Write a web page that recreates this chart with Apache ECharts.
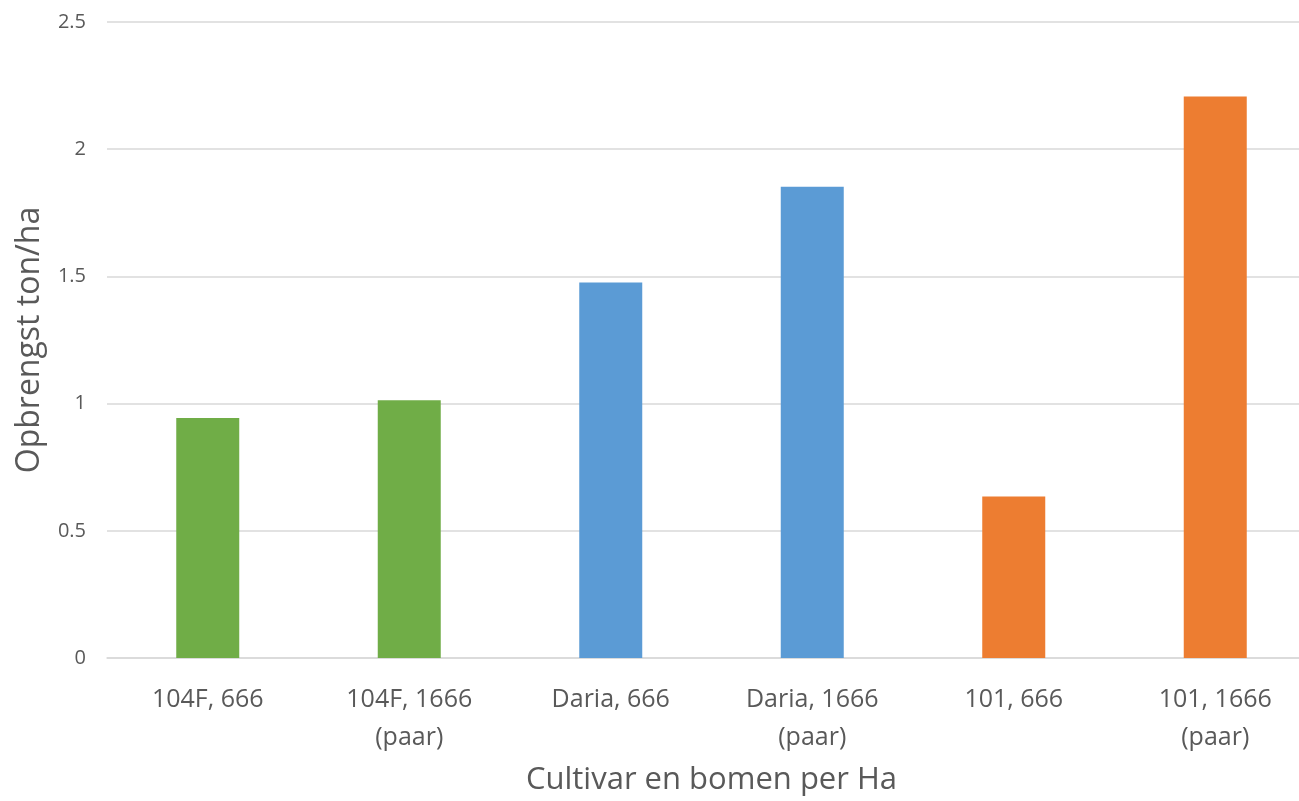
<!DOCTYPE html>
<html>
<head>
<meta charset="utf-8">
<script src="https://cdn.jsdelivr.net/npm/echarts@6/dist/echarts.min.js"></script>
<style>
html,body{margin:0;padding:0;background:#fff;overflow:hidden;width:1299px;height:801px;}
#c{width:1316px;height:801px;}
</style>
</head>
<body>
<div id="c"></div>
<script>
var categories = ['104F, 666', '104F, 1666\n(paar)', 'Daria, 666', 'Daria, 1666\n(paar)', '101, 666', '101, 1666\n(paar)'];
var values = [0.943, 1.013, 1.476, 1.852, 0.635, 2.207];
var barColors = ['#70AD47', '#70AD47', '#5B9BD5', '#5B9BD5', '#ED7D31', '#ED7D31'];
var yTitle = 'Opbrengst ton/ha';
var xTitle = 'Cultivar en bomen per Ha';

var chart = echarts.init(document.getElementById('c'));
var font = 'Open Sans';
chart.setOption({
  animation: false,
  grid: { left: 107, right: 0, top: 22, bottom: 141, containLabel: false },
  xAxis: {
    type: 'category',
    data: categories,
    name: xTitle,
    nameLocation: 'middle',
    nameGap: 107,
    nameTextStyle: { fontFamily: font, fontSize: 31, color: '#595959' },
    axisLine: { show: true, lineStyle: { color: '#D9D9D9', width: 1.5 } },
    axisTick: { show: false },
    axisLabel: { fontFamily: font, fontSize: 25, color: '#595959', margin: 23, lineHeight: 38 }
  },
  yAxis: {
    type: 'value',
    min: 0, max: 2.5, interval: 0.5,
    name: yTitle,
    nameLocation: 'middle',
    nameGap: 61,
    nameTextStyle: { fontFamily: font, fontSize: 32, color: '#595959' },
    axisLine: { show: false },
    axisTick: { show: false },
    axisLabel: { fontFamily: font, fontSize: 20, color: '#595959', margin: 21 },
    splitLine: { lineStyle: { color: '#D9D9D9', width: 1.5 } }
  },
  series: [{
    type: 'bar',
    barWidth: 63,
    data: values.map(function (v, i) { return { value: v, itemStyle: { color: barColors[i] } }; })
  }]
});
</script>
</body>
</html>
